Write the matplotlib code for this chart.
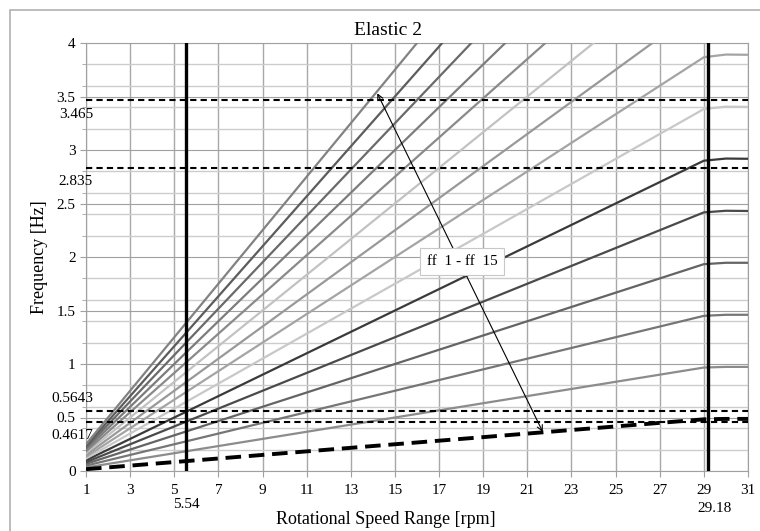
import matplotlib
matplotlib.use("Agg")
import matplotlib.pyplot as plt
from matplotlib.patches import Rectangle
from matplotlib.ticker import MultipleLocator

plt.rcParams['font.family'] = ['Liberation Serif', 'DejaVu Serif']

# rotational speed points where values were read [rpm]
rpm = [1, 29, 30, 31]

# frequencies of ff 1 .. ff 15 read at those speeds [Hz]
ff_values = [
    [0.017, 0.483, 0.487, 0.487],
    [0.033, 0.967, 0.973, 0.973],
    [0.050, 1.450, 1.460, 1.460],
    [0.067, 1.933, 1.946, 1.946],
    [0.083, 2.417, 2.432, 2.430],
    [0.100, 2.900, 2.920, 2.918],
    [0.117, 3.383, 3.405, 3.403],
    [0.133, 3.867, 3.892, 3.890],
    [0.150, 4.350, 4.378, 4.378],
    [0.167, 4.833, 4.865, 4.865],
    [0.183, 5.317, 5.351, 5.351],
    [0.200, 5.800, 5.838, 5.838],
    [0.217, 6.283, 6.324, 6.324],
    [0.233, 6.767, 6.811, 6.811],
    [0.250, 7.250, 7.297, 7.297],
]
ff_colors = ["black", "#8c8c8c", "#767676", "#646464", "#4a4a4a", "#3a3a3a",
             "#c8c8c8", "#a4a4a4", "#999999", "#c2c2c2", "#8a8a8a",
             "#7c7c7c", "#6a6a6a", "#5c5c5c", "#828282"]

x_ticks = [1, 3, 5, 7, 9, 11, 13, 15, 17, 19, 21, 23, 25, 27, 29, 31]
y_ticks = [0, 0.5, 1, 1.5, 2, 2.5, 3, 3.5, 4]
y_tick_labels = ["0", "0.5", "1", "1.5", "2", "2.5", "3", "3.5", "4"]

# operating range limits [rpm] and critical frequencies [Hz]
speed_limits = [5.54, 29.18]
freq_limits = [3.465, 2.835, 0.5643, 0.4617]
freq_label_offsets = [-10, -10, 9, -10]

fig = plt.figure(figsize=(7.6, 5.31), dpi=100)
fig.patches.append(Rectangle((10 / 760, -0.1), 1.2, 1 - 10 / 531 + 0.1,
                             transform=fig.transFigure, fill=False,
                             edgecolor="#b0b0b0", lw=1.2))
ax = fig.add_axes([86 / 760, 1 - 471 / 531, 662 / 760, 428 / 531])

ax.set_xlim(1, 31)
ax.set_ylim(0, 4)
ax.set_xticks(x_ticks)
ax.set_yticks(y_ticks)
ax.set_yticklabels(y_tick_labels)
ax.yaxis.set_minor_locator(MultipleLocator(0.2))
ax.grid(which="major", axis="x", color="#a8a8a8", lw=1.0)
ax.grid(which="major", axis="y", color="#a0a0a0", lw=0.8)
ax.grid(which="minor", axis="y", color="#cccccc", lw=1.0)
ax.set_axisbelow(True)
for s in ax.spines.values():
    s.set_color("#a0a0a0")
    s.set_linewidth(0.8)
ax.tick_params(axis="both", labelsize=11, color="#a0a0a0", length=4)
ax.tick_params(axis="y", which="minor", length=3, color="#a0a0a0")
ax.tick_params(axis="x", pad=5)

for i, vals in enumerate(ff_values):
    if i == 0:
        ax.plot(rpm, vals, color="black", lw=2.8, ls=(0, (4, 2)), zorder=4)
    else:
        ax.plot(rpm, vals, color=ff_colors[i], lw=1.6, zorder=3)

for f, off in zip(freq_limits, freq_label_offsets):
    ax.axhline(f, color="black", lw=1.5, ls=(0, (3, 2)), zorder=5)
    ax.annotate(str(f), xy=(0, f), xycoords=("axes fraction", "data"),
                xytext=(5, off), textcoords="offset points",
                ha="right", va="center", fontsize=11)

for s in speed_limits:
    ax.axvline(s, color="black", lw=2.4, zorder=6)
ax.annotate("5.54", xy=(5.54, 0), xycoords=("data", "axes fraction"),
            xytext=(0, -24), textcoords="offset points",
            ha="center", va="center", fontsize=11)
ax.annotate("29.18", xy=(29.18, 0), xycoords=("data", "axes fraction"),
            xytext=(5, -27), textcoords="offset points",
            ha="center", va="center", fontsize=11)

ax.annotate("", xy=(14.2, 3.53), xytext=(21.7, 0.365),
            arrowprops=dict(arrowstyle="<->", color="black", lw=0.8,
                            shrinkA=0, shrinkB=0), zorder=7)
ax.text(18.05, 1.96, "ff  1 - ff  15", ha="center", va="center", fontsize=11,
        zorder=8, bbox=dict(boxstyle="square,pad=0.45", fc="white",
                            ec="#c8c8c8", lw=0.8))

fig.text(388 / 760, 1 - 31 / 531, "Elastic 2", ha="center", va="center",
         fontsize=14)
fig.text(386 / 760, 1 - 519 / 531, "Rotational Speed Range [rpm]",
         ha="center", va="center", fontsize=13)
fig.text(40 / 760, 1 - 257 / 531, "Frequency [Hz]", ha="center",
         va="center", fontsize=13, rotation=90)

fig.savefig("out.png", dpi=100)
